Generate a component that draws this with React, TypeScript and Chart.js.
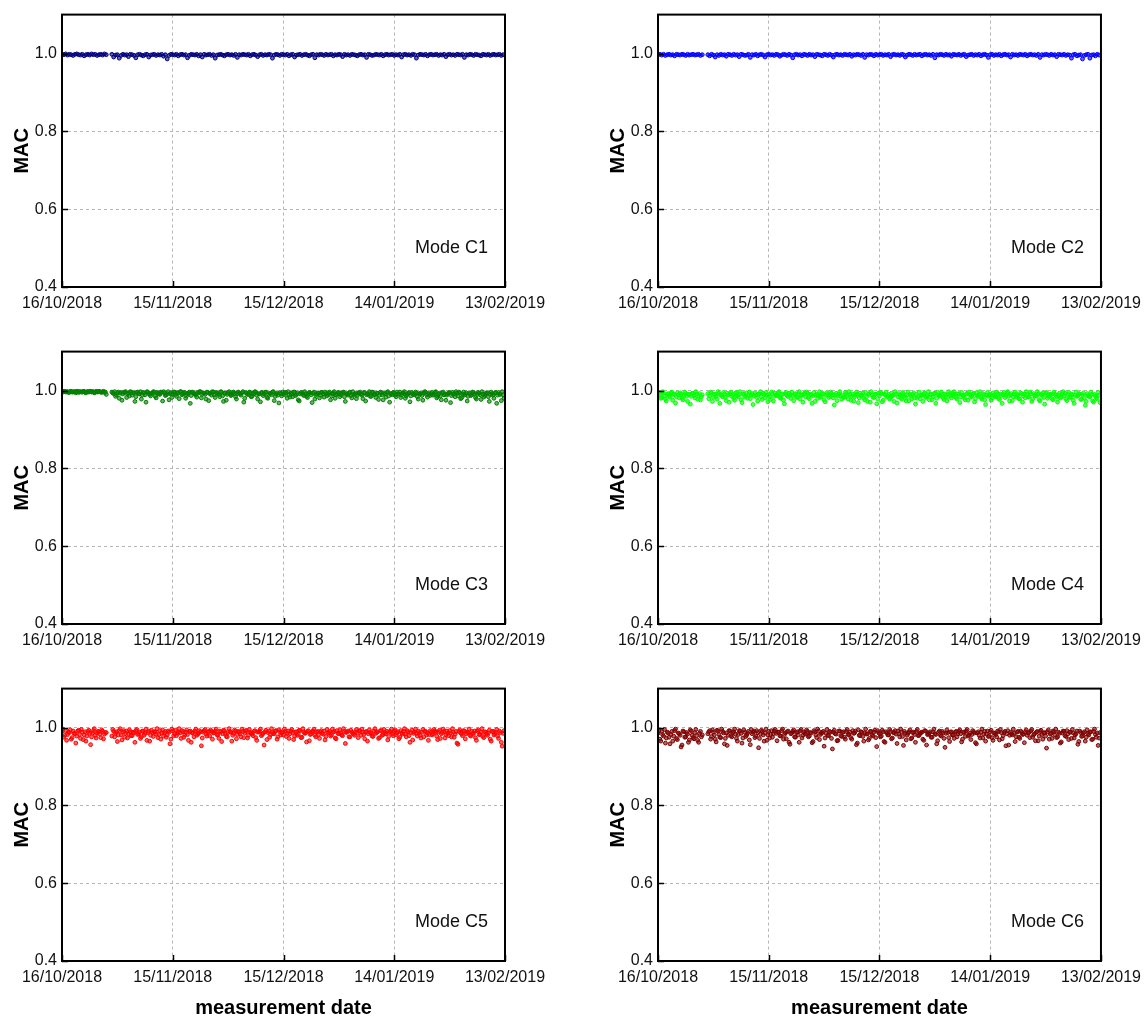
import React, { useEffect, useRef } from "react";
import { Chart, registerables } from "chart.js";
Chart.register(...registerables);

// x axis: days since 16/10/2018; sample sets A at i*0.5 days, B at i*0.5+0.25 days
const sampleStep = 0.5;
const offsetA = 0;
const offsetB = 0.25;
const xTickDays = [0, 30, 60, 90, 120];
const xTickLabels = ["16/10/2018", "15/11/2018", "15/12/2018", "14/01/2019", "13/02/2019"];
const yTicks = [0.4, 0.6, 0.8, 1.0];
const modeNames = ["Mode C1", "Mode C2", "Mode C3", "Mode C4", "Mode C5", "Mode C6"];
const modeColors = ["#00007f", "#0000ff", "#008000", "#00ff00", "#ff0000", "#7f0000"];
const xTitle = "measurement date";
const yTitle = "MAC";

// deviation from 1.0 in thousandths: MAC = 1 - dev/1000 (null = no measurement)
const c1Dev = [
  2,3,1,4,2,3,5,2,1,3,4,2,6,3,2,4,1,3,2,5,
  3,2,4,1,3,null,null,2,9,4,3,12,5,2,4,3,8,2,3,5,
  11,3,2,4,6,3,2,9,4,3,2,5,3,4,2,7,3,14,5,2,
  3,4,2,6,3,2,4,3,11,5,2,3,4,2,6,3,9,2,4,3,
  2,5,3,12,4,3,2,4,6,3,2,4,3,5,2,10,3,4,2,3,
  4,2,6,3,2,4,8,3,2,5,3,4,2,3,12,4,2,3,5,2,
  3,4,2,6,3,2,9,4,3,2,5,3,2,4,6,3,2,11,3,4,
  2,3,5,2,4,3,2,6,3,4,2,3,8,2,4,3,5,2,3,4,
  6,3,2,4,3,10,2,3,5,4,2,3,4,2,6,3,2,4,3,2,
  5,3,4,2,9,3,2,4,3,5,2,3,12,4,2,3,4,2,6,3,
  2,4,3,2,5,3,4,2,8,3,2,4,3,5,2,3,4,2,10,3,
  4,2,3,5,2,3,4,6,2,3,4,2,5,3,2,4,3,2,5,3,
];
const c2Dev = [
  3,2,4,2,5,3,2,4,3,6,2,3,4,2,3,5,2,4,3,2,
  4,3,2,5,3,null,null,3,6,2,4,9,3,5,2,4,3,7,2,3,
  5,2,4,3,8,2,3,5,4,2,10,3,4,2,6,3,2,4,9,3,
  2,4,3,5,2,3,7,4,2,3,5,2,4,11,3,2,4,3,6,2,
  3,5,2,4,3,8,2,3,4,6,2,3,5,2,4,9,3,2,4,3,
  5,2,3,4,2,7,3,4,2,3,5,2,10,3,4,2,3,6,2,4,
  3,2,5,3,4,2,8,3,2,4,3,5,2,3,9,4,2,3,5,2,
  4,3,2,6,3,2,4,3,5,2,11,3,4,2,3,5,2,4,3,7,
  2,3,4,2,5,3,2,8,4,3,2,5,3,4,2,6,3,2,4,10,
  3,2,5,3,4,2,6,3,2,4,3,9,2,4,3,5,2,3,4,2,
  6,3,2,4,3,5,2,10,3,4,2,3,5,2,4,3,8,2,3,4,
  2,5,3,4,12,3,2,6,4,3,14,5,3,2,12,4,3,6,2,4,
];
const c3Dev = [
  3,2,4,3,5,2,4,3,2,5,3,4,2,6,3,2,4,3,5,3,
  2,4,3,5,10,null,null,4,8,15,6,20,5,9,4,18,7,3,12,6,
  16,4,9,22,5,11,3,8,14,6,4,19,7,10,5,3,13,8,24,6,
  9,4,15,7,3,11,6,20,8,4,13,5,9,17,6,3,10,7,22,5,
  8,12,4,18,6,10,3,14,7,25,5,9,11,4,16,8,6,12,3,20,
  7,10,5,15,8,4,22,9,6,13,5,18,10,7,4,26,9,12,6,14,
  8,5,20,11,7,16,4,10,24,9,6,13,8,18,5,11,7,22,9,6,
  12,5,17,8,10,4,14,7,20,9,6,11,5,16,8,12,4,19,10,7,
  13,6,9,21,5,11,8,15,4,10,18,7,12,6,24,9,5,14,8,11,
  6,16,9,4,12,7,20,10,5,14,8,11,6,22,9,13,7,4,17,10,
  8,12,5,19,9,14,6,11,25,8,5,13,10,16,7,4,21,9,12,6,
  15,8,11,5,18,10,7,23,9,13,6,16,10,8,20,5,12,9,26,11,
];
const c3DevB = [
  4,2,3,5,2,4,3,6,2,3,4,2,5,3,4,2,3,6,2,4,
  3,5,2,4,null,null,null,6,3,11,4,7,25,5,3,9,14,4,6,28,
  5,8,3,12,6,30,4,10,7,3,15,5,9,4,27,6,11,3,8,18,
  4,10,6,21,3,9,5,14,7,33,4,8,12,5,3,19,6,10,4,26,
  6,3,11,5,9,16,4,28,7,10,3,13,5,8,22,4,9,6,30,5,
  10,4,16,6,3,12,8,29,5,9,4,20,7,11,3,15,6,32,8,4,
  11,6,3,17,9,4,13,7,27,5,10,3,15,8,6,31,4,12,7,19,
  5,9,4,14,6,24,8,3,11,5,16,7,4,28,9,6,13,3,10,21,
  7,4,12,6,27,9,3,15,5,10,7,23,4,11,6,17,3,30,8,5,
  12,4,9,18,6,3,14,7,29,5,10,4,16,8,6,25,3,11,7,13,
  5,10,3,15,7,24,4,9,12,6,31,5,8,3,14,7,19,4,10,27,
  6,13,4,9,22,5,11,3,17,8,6,28,4,12,7,33,5,10,3,20,
];
const c4Dev = [
  12,8,18,6,22,10,14,7,25,9,16,11,6,20,13,8,28,10,15,7,
  19,9,13,24,11,null,null,8,14,6,18,10,22,7,12,16,9,26,11,8,
  15,20,7,13,10,24,9,17,6,12,21,8,14,11,27,9,16,7,19,12,
  10,23,8,15,12,6,18,11,25,9,14,7,20,13,10,17,8,22,12,9,
  16,7,21,11,14,28,9,13,18,8,24,12,10,15,7,19,11,26,9,14,
  12,17,8,22,10,15,27,11,9,19,13,7,24,16,10,30,12,18,9,21,
  14,8,25,11,17,10,20,13,28,9,16,12,22,8,18,11,26,14,10,19,
  9,15,21,12,8,18,13,24,10,16,7,20,11,14,9,23,12,17,8,19,
  13,10,22,8,16,12,19,9,25,11,14,7,21,13,10,18,8,24,12,15,
  9,20,11,16,8,23,13,10,18,7,15,12,26,9,17,11,21,8,14,19,
  10,16,8,22,12,14,9,27,11,18,7,20,13,10,24,9,16,12,19,8,
  14,21,10,17,9,25,12,15,8,23,11,19,28,13,16,10,30,14,22,12,
];
const c4DevB = [
  5,20,3,14,27,8,17,4,11,32,6,19,9,24,4,15,10,35,7,13,
  3,22,8,16,null,null,null,21,4,28,9,15,3,33,12,5,18,7,30,4,
  11,25,5,17,3,31,8,14,20,4,12,36,6,18,9,3,23,10,5,29,
  16,4,27,7,13,3,20,9,34,5,15,11,4,26,8,18,3,12,30,6,
  4,17,9,33,5,12,20,3,15,8,29,6,18,4,11,37,7,14,3,22,
  18,5,13,3,25,9,16,4,31,7,12,20,5,28,8,3,17,10,34,6,
  5,29,9,4,15,22,7,12,3,32,8,18,5,13,27,4,10,21,6,35,
  20,4,12,28,6,16,3,10,24,8,33,5,14,4,19,9,27,3,13,7,
  3,18,9,31,5,13,24,7,4,17,10,29,6,15,3,22,11,36,5,12,
  25,6,14,4,20,9,33,5,12,3,27,8,16,4,11,21,6,30,9,3,
  17,4,28,8,13,3,24,10,6,35,5,15,9,21,4,12,30,7,16,3,
  7,26,5,18,11,33,4,13,9,22,6,38,8,15,4,27,10,19,5,31,
];
const c5Dev = [
  10,25,8,18,13,30,9,16,22,7,28,12,19,35,10,15,24,8,20,14,
  11,26,9,17,13,null,null,22,10,15,36,8,19,12,25,9,16,11,21,14,
  8,18,12,24,10,15,33,9,20,13,11,17,26,8,14,22,10,19,12,30,
  9,16,21,11,14,8,25,12,18,10,38,13,9,20,15,11,27,8,17,12,
  22,10,14,9,19,28,11,16,8,23,13,10,35,15,9,18,12,24,10,14,
  8,20,13,17,10,26,12,9,21,15,11,31,9,18,13,16,8,24,11,14,
  19,10,15,28,9,13,22,11,17,8,25,12,14,10,34,16,9,20,12,18,
  11,15,9,23,13,10,19,12,27,8,16,14,21,10,13,9,24,12,17,11,
  14,8,20,12,29,10,16,13,22,9,15,11,26,8,18,13,10,23,12,16,
  9,19,11,25,14,10,17,8,21,13,32,11,15,9,20,12,24,10,14,18,
  12,16,9,22,11,28,13,10,18,15,8,24,12,17,40,10,14,21,9,16,
  13,20,10,15,26,9,18,12,23,11,16,14,30,10,19,13,22,9,38,15,
];
const c5DevB = [
  4,20,33,12,6,26,15,40,9,18,5,31,11,22,7,44,14,3,27,10,
  17,6,29,13,null,null,null,5,24,11,19,3,32,8,15,27,6,21,12,38,
  5,16,28,9,20,4,13,35,7,23,11,3,18,30,6,14,25,9,42,4,
  21,7,15,3,28,11,19,6,33,9,14,24,4,17,8,47,12,5,22,10,
  6,30,13,4,18,9,36,7,15,24,3,12,20,6,29,10,16,4,26,8,
  27,5,14,21,8,33,11,4,18,45,7,13,25,3,16,9,30,6,19,11,
  4,23,9,16,5,31,12,20,7,26,3,15,37,8,18,11,4,24,10,28,
  8,17,32,5,13,22,4,10,29,15,6,19,3,41,11,24,7,14,20,5,
  26,9,4,18,12,35,6,15,23,3,13,28,8,20,5,16,32,10,4,21,
  6,14,29,8,17,3,24,11,38,7,15,4,22,13,27,5,10,19,33,8,
  19,5,12,31,7,16,4,27,9,21,14,3,25,10,43,6,17,8,29,12,
  4,22,15,9,33,6,18,3,26,12,20,7,35,10,16,5,28,13,48,8,
];
const c6Dev = [
  15,30,10,22,40,12,25,18,35,8,28,14,20,45,11,24,17,32,9,26,
  13,21,38,10,19,null,null,16,8,23,12,30,7,18,26,10,42,14,20,9,
  24,11,17,35,8,15,27,12,20,10,44,16,9,22,13,28,7,19,14,33,
  10,18,25,9,15,12,21,8,30,14,11,38,16,10,24,13,19,9,27,12,
  17,10,22,14,36,11,26,9,18,13,48,15,20,10,28,12,16,34,9,21,
  13,25,10,18,12,30,15,9,40,20,11,23,14,17,32,10,19,12,26,8,
  16,22,11,38,14,19,10,27,13,17,9,24,12,46,15,20,11,29,13,18,
  10,21,15,12,33,9,18,14,25,11,16,42,12,20,10,28,15,13,36,11,
  19,12,24,10,16,30,13,9,22,15,18,11,39,14,20,12,27,10,17,23,
  11,26,14,18,9,32,13,21,10,16,45,12,19,15,24,10,28,13,17,11,
  20,13,9,25,16,12,34,10,18,14,22,11,30,15,9,19,26,12,40,14,
  10,23,17,12,28,14,19,9,36,13,21,11,25,16,12,31,10,18,14,27,
];
const c6DevB = [
  8,35,18,5,27,14,42,10,22,4,31,16,50,9,25,13,38,6,20,29,
  5,33,15,24,null,null,null,11,30,6,19,37,9,25,4,14,28,46,8,21,
  13,4,28,18,9,40,6,23,15,32,5,12,26,8,52,17,10,35,4,19,
  27,8,16,5,34,12,22,4,18,29,9,43,14,6,25,11,38,5,20,15,
  6,24,13,39,8,19,4,31,15,10,27,5,21,12,55,7,17,33,9,23,
  11,30,5,18,26,8,14,44,6,21,12,35,4,16,28,10,22,7,49,13,
  24,7,36,11,19,5,29,13,8,41,16,4,23,10,32,15,6,27,12,38,
  5,20,13,30,8,45,17,11,25,4,18,34,9,22,14,51,6,26,12,19,
  28,10,16,6,37,12,23,5,19,31,8,14,42,11,27,4,17,35,9,22,
  7,33,15,24,11,5,29,13,47,8,20,16,4,36,12,25,9,18,39,6,
  14,26,5,19,34,10,22,7,30,13,53,6,17,28,11,4,24,15,37,9,
  21,8,31,12,5,27,16,43,9,23,14,35,6,19,11,30,4,25,46,13,
];
const modeDevsA = [c1Dev, c2Dev, c3Dev, c4Dev, c5Dev, c6Dev];
const modeDevsB = [null, null, c3DevB, c4DevB, c5DevB, c6DevB];

const FONT = "'Liberation Sans', Arial, sans-serif";

function hexToRgba(hex: string, a: number) {
  const n = parseInt(hex.slice(1), 16);
  return `rgba(${(n >> 16) & 255},${(n >> 8) & 255},${n & 255},${a})`;
}

function toPoints(devs: (number | null)[] | null, offset: number) {
  const pts: { x: number; y: number }[] = [];
  if (!devs) return pts;
  devs.forEach((d, i) => {
    if (d === null) return;
    pts.push({ x: offset + i * sampleStep, y: 1 - d / 1000 });
  });
  return pts;
}

function Panel({ index }: { index: number }) {
  const ref = useRef<HTMLCanvasElement>(null);
  const col = index % 2;
  const row = Math.floor(index / 2);
  const width = 574;
  const height = row === 2 ? 347 : 337;

  useEffect(() => {
    const color = modeColors[index];
    const points = toPoints(modeDevsA[index], offsetA).concat(toPoints(modeDevsB[index], offsetB));

    const framePlugin = {
      id: "frame",
      afterDraw(chart: any) {
        const { ctx, chartArea } = chart;
        const { left, right, top, bottom } = chartArea;
        const xs = chart.scales.x;
        const ys = chart.scales.y;
        ctx.save();
        ctx.strokeStyle = "#000";
        ctx.lineWidth = 1.5;
        xTickDays.forEach((d) => {
          const px = Math.round(xs.getPixelForValue(d)) + 0.5;
          ctx.beginPath();
          ctx.moveTo(px, bottom);
          ctx.lineTo(px, bottom - 6);
          ctx.stroke();
        });
        yTicks.forEach((v) => {
          const py = Math.round(ys.getPixelForValue(v)) + 0.5;
          ctx.beginPath();
          ctx.moveTo(left, py);
          ctx.lineTo(left + 6, py);
          ctx.stroke();
        });
        ctx.lineWidth = 2;
        ctx.strokeRect(left, top, right - left, bottom - top);

        ctx.fillStyle = "#111";
        ctx.font = `18px ${FONT}`;
        ctx.textAlign = "right";
        ctx.textBaseline = "middle";
        ctx.fillText(modeNames[index], right - 17, bottom - 39);

        ctx.font = `bold 20px ${FONT}`;
        ctx.fillStyle = "#000";
        ctx.save();
        ctx.translate(col === 0 ? 22 : 44, (top + bottom) / 2);
        ctx.rotate(-Math.PI / 2);
        ctx.textAlign = "center";
        ctx.textBaseline = "middle";
        ctx.fillText(yTitle, 0, 0);
        ctx.restore();

        if (row === 2) {
          ctx.textAlign = "center";
          ctx.textBaseline = "middle";
          ctx.fillText(xTitle, (left + right) / 2, 334);
        }
        ctx.restore();
      },
    };

    const chart = new Chart(ref.current as HTMLCanvasElement, {
      type: "scatter",
      data: {
        datasets: [
          {
            data: points,
            pointRadius: 1.9,
            pointBorderWidth: 1,
            pointBackgroundColor: hexToRgba(color, 0.6),
            pointBorderColor: color,
            showLine: false,
          },
        ],
      },
      options: {
        responsive: false,
        animation: false,
        events: [],
        layout: { padding: { top: 11, right: col === 0 ? 69 : 46, left: 0, bottom: 0 } },
        plugins: { legend: { display: false }, tooltip: { enabled: false } },
        scales: {
          x: {
            type: "linear",
            min: 0,
            max: 120,
            afterBuildTicks: (s: any) => {
              s.ticks = xTickDays.map((v) => ({ value: v }));
            },
            afterFit: (s: any) => {
              s.height = row === 2 ? 60 : 50;
            },
            ticks: {
              autoSkip: false,
              maxRotation: 0,
              padding: 7,
              color: "#111",
              font: { family: FONT, size: 16 },
              callback: (v: any) => {
                const i = xTickDays.indexOf(Number(v));
                return i >= 0 ? xTickLabels[i] : "";
              },
            },
            grid: { color: "#b5b5b5", lineWidth: 1, drawTicks: false },
            border: { display: false, dash: [3, 3] },
          },
          y: {
            min: 0.4,
            max: 1.1,
            afterBuildTicks: (s: any) => {
              s.ticks = yTicks.map((v) => ({ value: v }));
            },
            afterFit: (s: any) => {
              s.width = col === 0 ? 62 : 84;
            },
            ticks: {
              padding: 5,
              color: "#111",
              font: { family: FONT, size: 16 },
              callback: (v: any) => Number(v).toFixed(1),
            },
            grid: { color: "#b5b5b5", lineWidth: 1, drawTicks: false },
            border: { display: false, dash: [3, 3] },
          },
        },
      },
      plugins: [framePlugin],
    } as any);
    return () => chart.destroy();
  }, [index]);

  return (
    <canvas
      ref={ref}
      width={width}
      height={height}
      style={{ position: "absolute", left: col * 574, top: row * 337, width, height }}
    />
  );
}

export default function App() {
  return (
    <div style={{ position: "absolute", left: 0, top: 0, width: 1148, height: 1021, background: "#fff" }}>
      {[0, 1, 2, 3, 4, 5].map((i) => (
        <Panel key={i} index={i} />
      ))}
    </div>
  );
}
